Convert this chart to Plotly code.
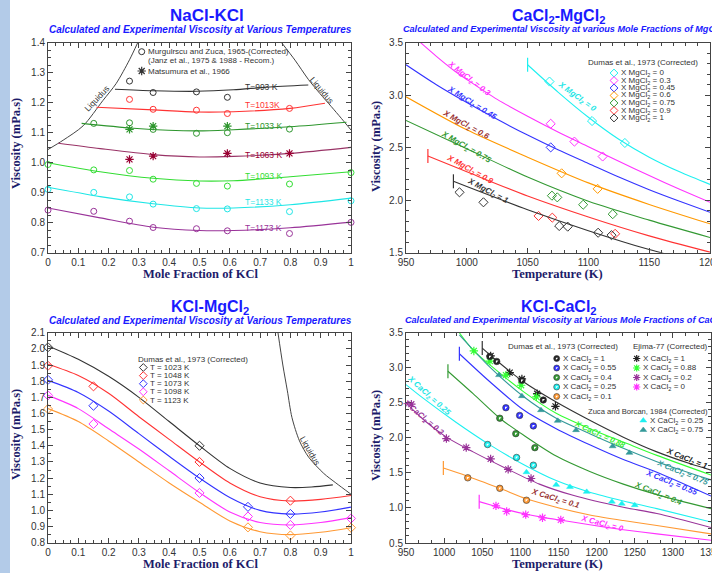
import plotly.graph_objects as go

W, H = 712, 573
SANS = "Liberation Sans, Arial, Helvetica, sans-serif"
SERIF = "Liberation Serif, Times New Roman, serif"

# ======================= DATA =======================
# ---- Panel 1 : NaCl-KCl (x = mole fraction KCl, y = viscosity, mPa.s)
P1_TEMPS = ["T=993 K", "T=1013K", "T=1033 K", "T=1063 K", "T=1093 K", "T=1133 K", "T=1173 K"]
P1_LINE_X = [
    [0.221, 0.347, 0.49, 0.612, 0.722, 0.859],
    [0.16, 0.347, 0.49, 0.612, 0.799, 0.914],
    [0.111, 0.282, 0.49, 0.612, 0.799, 0.985],
    [0.034, 0.172, 0.347, 0.5, 0.612, 0.799, 1.0],
    [0.0, 0.172, 0.347, 0.5, 0.612, 0.799, 1.0],
    [0.0, 0.172, 0.347, 0.5, 0.612, 0.799, 1.0],
    [0.0, 0.172, 0.347, 0.5, 0.612, 0.799, 1.0],
]
P1_LINE_Y = [
    [1.245, 1.240, 1.238, 1.243, 1.252, 1.259],
    [1.185, 1.176, 1.169, 1.170, 1.181, 1.198],
    [1.131, 1.115, 1.106, 1.110, 1.120, 1.135],
    [1.065, 1.047, 1.027, 1.019, 1.021, 1.031, 1.051],
    [1.000, 0.970, 0.948, 0.939, 0.940, 0.953, 0.970],
    [0.918, 0.887, 0.863, 0.849, 0.849, 0.860, 0.882],
    [0.849, 0.816, 0.785, 0.774, 0.774, 0.783, 0.802],
]
P1_MZ_X = [
    [0.269, 0.347, 0.49, 0.592],
    [0.269, 0.347, 0.49, 0.592, 0.797],
    [0.151, 0.269, 0.347, 0.49, 0.592, 0.797],
    [],
    [0.0, 0.151, 0.269, 0.347, 0.49, 0.592, 0.797, 1.0],
    [0.0, 0.151, 0.269, 0.347, 0.49, 0.592, 0.797, 1.0],
    [0.0, 0.151, 0.269, 0.347, 0.49, 0.592, 0.797, 1.0],
]
P1_MZ_Y = [
    [1.272, 1.234, 1.236, 1.218],
    [1.211, 1.178, 1.175, 1.164, 1.181],
    [1.131, 1.133, 1.111, 1.098, 1.100, 1.112],
    [],
    [0.994, 0.976, 0.974, 0.945, 0.931, 0.922, 0.929, 0.967],
    [0.911, 0.901, 0.886, 0.862, 0.847, 0.846, 0.837, 0.873],
    [0.842, 0.838, 0.805, 0.784, 0.780, 0.773, 0.764, 0.801],
]
P1_MAT_X = [[], [], [0.269, 0.347, 0.592], [0.269, 0.347, 0.592, 0.797], [], [], []]
P1_MAT_Y = [[], [], [1.111, 1.122, 1.122], [1.011, 1.022, 1.031, 1.031], [], [], []]
P1_LIQ_LEFT_X = [0.0, 0.05, 0.116, 0.181, 0.225, 0.269, 0.296]
P1_LIQ_LEFT_Y = [1.044, 1.075, 1.123, 1.207, 1.264, 1.343, 1.40]
P1_LIQ_RIGHT_X = [0.771, 0.815, 0.859, 0.897, 0.935, 0.968, 1.0]
P1_LIQ_RIGHT_Y = [1.40, 1.342, 1.278, 1.231, 1.187, 1.148, 1.109]

# ---- Panel 2 : CaCl2-MgCl2 (x = temperature K)
P2_FRAC = ["0", "0.3", "0.45", "0.6", "0.75", "0.9", "1"]
P2_LINE_T = [
    [1050, 1075, 1100, 1125, 1150, 1175, 1200],
    [962, 975, 990, 1000, 1025, 1050, 1075, 1100, 1125, 1150, 1175, 1200],
    [950, 975, 1000, 1025, 1050, 1075, 1100, 1125, 1150, 1175, 1200],
    [950, 1000, 1050, 1100, 1150, 1200],
    [950, 1000, 1050, 1100, 1150, 1200],
    [968, 1000, 1050, 1100, 1150, 1200],
    [989, 1000, 1050, 1100, 1150, 1200],
]
P2_LINE_V = [
    [3.29, 3.03, 2.79, 2.58, 2.41, 2.27, 2.15],
    [3.50, 3.37, 3.23, 3.15, 2.96, 2.80, 2.65, 2.51, 2.37, 2.235, 2.105, 1.98],
    [3.29, 3.10, 2.93, 2.77, 2.62, 2.48, 2.35, 2.22, 2.10, 1.99, 1.885],
    [2.985, 2.67, 2.41, 2.165, 1.96, 1.775],
    [2.76, 2.49, 2.22, 1.99, 1.81, 1.645],
    [2.42, 2.27, 2.04, 1.84, 1.66, 1.505],
    [2.18, 2.13, 1.91, 1.71, 1.53, 1.38],
]
P2_PTS_T = [
    [1068, 1103, 1130],
    [1069, 1088.5, 1111.7],
    [1069],
    [1078, 1107.6],
    [1070, 1074.4, 1095.7, 1120],
    [1059, 1070.3, 1122],
    [994, 1013.7, 1076, 1083, 1108, 1119],
]
P2_PTS_V = [
    [3.13, 2.754, 2.545],
    [2.728, 2.558, 2.416],
    [2.503],
    [2.256, 2.108],
    [2.043, 2.027, 1.957, 1.867],
    [1.85, 1.834, 1.68],
    [2.075, 1.98, 1.754, 1.748, 1.69, 1.667],
]

# ---- Panel 3 : KCl-MgCl2 (x = mole fraction KCl)
P3_TEMPS = ["T = 1023 K", "T = 1048 K", "T = 1073 K", "T = 1098 K", "T = 1123 K"]
P3_LINE_X = [
    [0.0, 0.1, 0.2, 0.3, 0.4, 0.5, 0.6, 0.7, 0.8, 0.87, 0.94],
    [0.0, 0.1, 0.2, 0.3, 0.4, 0.5, 0.6, 0.7, 0.8, 0.9, 1.0],
    [0.0, 0.1, 0.2, 0.3, 0.4, 0.5, 0.6, 0.7, 0.8, 0.9, 1.0],
    [0.0, 0.1, 0.2, 0.3, 0.4, 0.5, 0.6, 0.7, 0.8, 0.9, 1.0],
    [0.0, 0.1, 0.2, 0.3, 0.4, 0.5, 0.6, 0.7, 0.8, 0.9, 1.0],
]
P3_LINE_Y = [
    [2.018, 1.935, 1.83, 1.70, 1.55, 1.40, 1.26, 1.17, 1.142, 1.145, 1.158],
    [1.905, 1.835, 1.725, 1.58, 1.44, 1.30, 1.17, 1.085, 1.058, 1.068, 1.092],
    [1.805, 1.73, 1.615, 1.475, 1.335, 1.20, 1.08, 1.00, 0.977, 0.99, 1.02],
    [1.712, 1.63, 1.505, 1.38, 1.245, 1.11, 0.99, 0.925, 0.91, 0.925, 0.955],
    [1.63, 1.55, 1.43, 1.30, 1.17, 1.05, 0.935, 0.868, 0.85, 0.865, 0.893],
]
P3_PTS_X = [
    [0.0, 0.5],
    [0.0, 0.15, 0.5, 0.8],
    [0.0, 0.15, 0.5, 0.66, 0.8],
    [0.0, 0.15, 0.5, 0.66, 0.8, 1.0],
    [0.0, 0.66, 0.8, 1.0],
]
P3_PTS_Y = [
    [2.01, 1.40],
    [1.895, 1.768, 1.30, 1.06],
    [1.808, 1.648, 1.20, 1.022, 0.978],
    [1.712, 1.535, 1.108, 0.962, 0.91, 0.95],
    [1.628, 0.895, 0.845, 0.893],
]
P3_LIQ_X = [0.759, 0.775, 0.79, 0.805, 0.83, 0.86, 0.91, 0.95, 1.0]
P3_LIQ_Y = [2.10, 1.90, 1.74, 1.576, 1.43, 1.33, 1.229, 1.17, 1.10]

# ---- Panel 4 : KCl-CaCl2 (x = temperature K)
P4_FRAC = ["1", "0.88", "0.75", "0.55", "0.4", "0.25", "0.2", "0.1", "0"]
P4_LINE_T = [
    [1050, 1068, 1104, 1147, 1191, 1235, 1279, 1323, 1350],
    [1020, 1038, 1060, 1104, 1147, 1191, 1235, 1279, 1350],
    [1020, 1060, 1104, 1147, 1191, 1235, 1279, 1350],
    [1020, 1060, 1104, 1147, 1191, 1235, 1279, 1350],
    [1005, 1038, 1073, 1104, 1147, 1191, 1235, 1279, 1350],
    [950, 972, 1016, 1060, 1104, 1147, 1191, 1235, 1279, 1350],
    [950, 975, 1003, 1038, 1082, 1125, 1169, 1235, 1279, 1350],
    [999, 1029, 1073, 1108, 1147, 1191, 1235, 1279, 1350],
    [1046, 1068, 1086, 1108, 1130, 1156, 1191, 1235, 1279, 1350],
]
P4_LINE_V = [
    [3.28, 3.11, 2.80, 2.51, 2.25, 2.01, 1.80, 1.63, 1.54],
    [3.50, 3.25, 3.04, 2.66, 2.35, 2.13, 1.94, 1.75, 1.47],
    [3.47, 3.01, 2.59, 2.28, 2.06, 1.85, 1.66, 1.40],
    [3.20, 2.80, 2.40, 2.13, 1.90, 1.69, 1.51, 1.17],
    [2.95, 2.63, 2.28, 2.04, 1.74, 1.52, 1.34, 1.19, 0.99],
    [2.76, 2.57, 2.22, 1.90, 1.62, 1.39, 1.225, 1.10, 0.99, 0.80],
    [2.50, 2.24, 2.01, 1.80, 1.56, 1.34, 1.18, 1.01, 0.92, 0.72],
    [1.57, 1.46, 1.28, 1.13, 1.01, 0.90, 0.82, 0.75, 0.63],
    [1.09, 1.02, 0.965, 0.91, 0.865, 0.82, 0.76, 0.69, 0.63, 0.54],
]
P4_DUMAS_FRAC = ["1", "0.55", "0.4", "0.25", "0.1"]
P4_DUMAS_T = [[1060, 1069, 1102, 1130], [1081, 1099, 1117], [1073, 1094, 1119],
              [1057, 1095, 1117], [1031, 1073, 1108]]
P4_DUMAS_V = [[3.16, 3.09, 2.82, 2.54], [2.43, 2.32, 2.17], [2.28, 2.06, 1.86],
              [1.905, 1.72, 1.61], [1.43, 1.28, 1.11]]
P4_EJIMA_FRAC = ["1", "0.88", "0.2", "0"]
P4_EJIMA_T = [[1061, 1086, 1102, 1122, 1146], [1039, 1060, 1081, 1101, 1121],
              [957, 1003, 1029, 1061, 1084, 1114], [1068, 1082, 1107, 1129, 1153]]
P4_EJIMA_V = [[3.17, 2.93, 2.84, 2.63, 2.45], [3.24, 3.095, 2.895, 2.75, 2.585],
              [2.48, 1.99, 1.86, 1.70, 1.55, 1.42], [1.03, 0.95, 0.905, 0.86, 0.83]]
P4_ZUCA_FRAC = ["0.25", "0.75"]
P4_ZUCA_T = [[1108, 1147, 1165, 1187, 1220, 1233, 1250], [1072, 1102, 1127, 1149, 1173, 1221, 1243]]
P4_ZUCA_V = [[1.51, 1.33, 1.30, 1.23, 1.09, 1.06, 1.04], [2.895, 2.595, 2.395, 2.243, 2.11, 1.88, 1.786]]

# ======================= STYLE / LAYOUT =======================
P1_COL = ["#333333", "#ff3333", "#2e962e", "#993366", "#33dd33", "#1ee6e6", "#993399"]
P1_LBL_COL = ["#333333", "#ff3333", "#2e962e", "#990033", "#33dd33", "#1ee6e6", "#993399"]
P1_LBL_POS = [1.253, 1.192, 1.122, 1.027, 0.957, 0.868, 0.781]
P2_COL = ["#1ef0f0", "#ff33ff", "#3333ff", "#ff9900", "#339933", "#ff3333", "#333333"]
P2_LBL_COL = ["#1ee6e6", "#ff33ff", "#3333ff", "#993333", "#339933", "#ff3333", "#333333"]
P2_LBL_POS = [(1090.5, 2.98, 36), (1002, 3.156, 38), (1004, 2.93, 32), (999, 2.72, 29),
              (999, 2.51, 30), (1003, 2.29, 29), (1017, 2.085, 28)]
P2_TICK = [True, False, False, False, False, True, True]
P3_COL = ["#333333", "#ff3333", "#3333ff", "#ff33ff", "#ff9933"]
P4_COL = ["#333333", "#33ff33", "#339999", "#3333ff", "#339933", "#1ef0f0", "#993399", "#ff9933", "#ff33ff"]
P4_LBL_COL = ["#222222", "#33ee33", "#339999", "#3333ff", "#339933", "#1ee6e6", "#993399", "#993333", "#ff33ff"]
P4_LBL_POS = [(1318, 1.705, 22), (1204, 2.04, 25), (1312, 1.505, 22), (1298, 1.36, 22),
              (1281, 1.205, 22), (980, 2.595, 42), (973, 2.286, 40), (1146, 1.124, 17), (1207, 0.767, 15)]
P4_TICK = [True, False, False, True, True, False, False, True, True]
P4_DUMAS_COL = ["#222222", "#3333ff", "#339933", "#1ef0f0", "#ff9933"]
P4_EJIMA_COL = ["#222222", "#33ff33", "#993399", "#ff33ff"]
P4_ZUCA_COL = ["#1ef0f0", "#339999"]

PANELS = {1: (48, 351, 42.7, 252.7), 2: (406, 710, 42.7, 252.7),
          3: (48, 351, 332.7, 542.7), 4: (406, 711, 332.7, 543.0)}

fig = go.Figure()
ann = []


def ax(n):
    return ("x" if n == 1 else "x%d" % n), ("y" if n == 1 else "y%d" % n)


def lines(n, xs, ys, color, width=1.1):
    xa, ya = ax(n)
    fig.add_trace(go.Scatter(x=xs, y=ys, mode="lines", xaxis=xa, yaxis=ya, hoverinfo="skip",
                             line=dict(color=color, width=width, shape="spline", smoothing=0.8)))


def marks(n, xs, ys, symbol, color, size=6, lw=1.0, fill=None):
    xa, ya = ax(n)
    m = dict(symbol=symbol, size=size, color=(fill if fill is not None else color),
             line=dict(color=color, width=lw))
    fig.add_trace(go.Scatter(x=xs, y=ys, mode="markers", xaxis=xa, yaxis=ya, hoverinfo="skip",
                             marker=m, cliponaxis=False))


def asterisk(n, xs, ys, color, size=7):
    marks(n, xs, ys, "asterisk-open", color, size=size, lw=1.2)
    marks(n, xs, ys, "square", color, size=3, lw=0, fill=color)


def halfcircle(n, xs, ys, color, size=6.5):
    marks(n, xs, ys, "circle", "#333333", size=size, lw=0.6, fill=color)
    marks(n, xs, ys, "triangle-nw", "white", size=size * 0.45, lw=0, fill="white")


def ptext(px, py, text, size=8, color="#333333", xanchor="left", yanchor="middle",
          family=SANS, weight="normal", style="normal", angle=0):
    ann.append(dict(x=px / W, y=1 - py / H, xref="paper", yref="paper", text=text,
                    showarrow=False, xanchor=xanchor, yanchor=yanchor, textangle=angle,
                    font=dict(family=family, size=size, color=color, weight=weight, style=style)))


def dtext(n, x, y, text, size=8.5, color="#333", angle=0, xanchor="center",
          weight="normal", style="normal"):
    xa, ya = ax(n)
    ann.append(dict(x=x, y=y, xref=xa, yref=ya, text=text, showarrow=False,
                    xanchor=xanchor, yanchor="middle", textangle=angle,
                    font=dict(family=SANS, size=size, color=color, weight=weight, style=style)))


# ---------- Panel 1 ----------
lines(1, P1_LIQ_LEFT_X, P1_LIQ_LEFT_Y, "#444444", 1)
lines(1, P1_LIQ_RIGHT_X, P1_LIQ_RIGHT_Y, "#444444", 1)
for i in range(len(P1_TEMPS)):
    lines(1, P1_LINE_X[i], P1_LINE_Y[i], P1_COL[i])
for i in range(len(P1_TEMPS)):
    if P1_MZ_X[i]:
        marks(1, P1_MZ_X[i], P1_MZ_Y[i], "circle-open", P1_COL[i], size=6)
    if P1_MAT_X[i]:
        asterisk(1, P1_MAT_X[i], P1_MAT_Y[i], P1_LBL_COL[i])
    dtext(1, 0.645, P1_LBL_POS[i], P1_TEMPS[i], size=8.5, color=P1_LBL_COL[i], xanchor="left")
dtext(1, 0.163, 1.215, "Liquidus", size=8.5, color="#333", angle=-47)
dtext(1, 0.903, 1.242, "Liquidus", size=8.5, color="#333", angle=50)

# ---------- Panel 2 ----------
for i in range(len(P2_FRAC)):
    lines(2, P2_LINE_T[i], P2_LINE_V[i], P2_COL[i])
    if P2_TICK[i]:
        marks(2, P2_LINE_T[i][:1], P2_LINE_V[i][:1], "line-ns", P2_COL[i], size=10, lw=1.2)
    marks(2, P2_PTS_T[i], P2_PTS_V[i], "diamond-open", P2_COL[i], size=7)
    t, v, a = P2_LBL_POS[i]
    dtext(2, t, v, "X MgCl<sub>2</sub> = " + P2_FRAC[i], size=8, color=P2_LBL_COL[i],
          angle=a, weight="bold", style="italic")

# ---------- Panel 3 ----------
lines(3, P3_LIQ_X, P3_LIQ_Y, "#444444", 1)
for i in range(len(P3_TEMPS)):
    lines(3, P3_LINE_X[i], P3_LINE_Y[i], P3_COL[i])
    marks(3, P3_PTS_X[i], P3_PTS_Y[i], "diamond-open", P3_COL[i], size=7)
dtext(3, 0.865, 1.367, "Liquidus", size=8.5, color="#333", angle=60)

# ---------- Panel 4 ----------
for i in range(len(P4_FRAC)):
    lines(4, P4_LINE_T[i], P4_LINE_V[i], P4_COL[i])
    if P4_TICK[i]:
        marks(4, P4_LINE_T[i][:1], P4_LINE_V[i][:1], "line-ns", P4_COL[i], size=10, lw=1.2)
    t, v, a = P4_LBL_POS[i]
    dtext(4, t, v, "X CaCl<sub>2</sub> = " + P4_FRAC[i], size=8, color=P4_LBL_COL[i],
          angle=a, weight="bold", style="italic")
for i in range(len(P4_ZUCA_FRAC)):
    marks(4, P4_ZUCA_T[i], P4_ZUCA_V[i], "triangle-up", P4_ZUCA_COL[i], size=6, lw=0.5,
          fill=P4_ZUCA_COL[i])
for i in range(len(P4_EJIMA_FRAC)):
    asterisk(4, P4_EJIMA_T[i], P4_EJIMA_V[i], P4_EJIMA_COL[i])
for i in range(len(P4_DUMAS_FRAC)):
    halfcircle(4, P4_DUMAS_T[i], P4_DUMAS_V[i], P4_DUMAS_COL[i])

# ---------- Legends (overlay pixel axis x5/y5) ----------
marks(5, [141.7], [51.7], "circle-open", "#333333", size=6)
ptext(145.5, 51.7, "Murgulrscu and Zuca, 1965-(Corrected)")
ptext(146, 61, "(Janz et al., 1975 & 1988 - Recom.)")
asterisk(5, [141.7], [71], "#333333")
ptext(145.5, 71, "Matsumura et al., 1966")

ptext(643, 62.5, "Dumas et al., 1973 (Corrected)", xanchor="center")
P2_LEG_Y = [73, 80.5, 88, 95.5, 103, 110.5, 118]
for i in range(len(P2_FRAC)):
    marks(5, [614], [P2_LEG_Y[i]], "diamond-open", P2_COL[i], size=6)
    ptext(618.5, P2_LEG_Y[i], "X MgCl<sub>2</sub> = " + P2_FRAC[i])

ptext(192.5, 359, "Dumas et al., 1973 (Corrected)", xanchor="center")
P3_LEG_Y = [367.5, 375.6, 383.7, 391.8, 400]
for i in range(len(P3_TEMPS)):
    marks(5, [143.3], [P3_LEG_Y[i]], "diamond-open", P3_COL[i], size=6)
    ptext(147.8, P3_LEG_Y[i], P3_TEMPS[i])

ptext(563, 346.5, "Dumas et al., 1973 (Corrected)", xanchor="center")
P4_LEG_Y = [358.5, 368, 377.5, 387, 396.5]
for i in range(len(P4_DUMAS_FRAC)):
    halfcircle(5, [556.7], [P4_LEG_Y[i]], P4_DUMAS_COL[i], size=6)
    ptext(560.5, P4_LEG_Y[i], "X CaCl<sub>2</sub> = " + P4_DUMAS_FRAC[i])
ptext(709.5, 346.5, "Ejima-77 (Corrected)", xanchor="right")
for i in range(len(P4_EJIMA_FRAC)):
    asterisk(5, [636.7], [P4_LEG_Y[i]], P4_EJIMA_COL[i], size=6)
    ptext(640.5, P4_LEG_Y[i], "X CaCl<sub>2</sub> = " + P4_EJIMA_FRAC[i])
ptext(710, 411, "Zuca and Borcan, 1984 (Corrected)", size=7.6, xanchor="right")
P4_ZLEG_Y = [420.5, 430]
for i in range(len(P4_ZUCA_FRAC)):
    marks(5, [643.3], [P4_ZLEG_Y[i]], "triangle-up", P4_ZUCA_COL[i], size=6, lw=0.5,
          fill=P4_ZUCA_COL[i])
    ptext(647.5, P4_ZLEG_Y[i], "X CaCl<sub>2</sub> = " + P4_ZUCA_FRAC[i])

# ---------- Titles ----------
TCOL = "#1a1aff"
NAVY = "#1c1c6a"
ptext(207, 16, "NaCl-KCl", size=17, color=TCOL, xanchor="center", weight="bold")
ptext(200, 29.5, "Calculated and Experimental Viscosity at Various Temperatures", size=10,
      color=TCOL, xanchor="center", weight="bold", style="italic")
ptext(558.7, 16.5, "CaCl<sub>2</sub>-MgCl<sub>2</sub>", size=16, color=TCOL, xanchor="center", weight="bold")
ptext(401, 29.5, "Calculated and Experimental Viscosity at various Mole Fractions of MgCl<sub>2</sub>",
      size=9.1, color=TCOL, xanchor="left", weight="bold", style="italic")
ptext(210, 307.5, "KCl-MgCl<sub>2</sub>", size=16, color=TCOL, xanchor="center", weight="bold")
ptext(200, 320, "Calculated and Experimental Viscosity at Various Temperatures", size=10,
      color=TCOL, xanchor="center", weight="bold", style="italic")
ptext(559.3, 307.5, "KCl-CaCl<sub>2</sub>", size=16, color=TCOL, xanchor="center", weight="bold")
ptext(402.5, 320, "Calculated and Experimental Viscosity at Various Mole Fractions of CaCl<sub>2</sub>",
      size=9.1, color=TCOL, xanchor="left", weight="bold", style="italic")

ptext(200, 274, "Mole Fraction of KCl", size=12.5, color=NAVY, xanchor="center", family=SERIF, weight="bold")
ptext(557.7, 274, "Temperature (K)", size=12.5, color=NAVY, xanchor="center", family=SERIF, weight="bold")
ptext(200, 564, "Mole Fraction of KCl", size=12.5, color=NAVY, xanchor="center", family=SERIF, weight="bold")
ptext(557.7, 564, "Temperature (K)", size=12.5, color=NAVY, xanchor="center", family=SERIF, weight="bold")
for (xx, yy) in [(16, 144), (376, 146), (16, 435), (376, 435)]:
    ptext(xx, yy, "Viscosity (mPa.s)", size=12.5, color=NAVY, xanchor="center", family=SERIF,
          weight="bold", angle=-90)


# ---------- Axes ----------
def axis(n, is_x, rng, dtick, mdtick, fmt=None):
    x0, x1, y0, y1 = PANELS[n]
    dom = [x0 / W, x1 / W] if is_x else [1 - y1 / H, 1 - y0 / H]
    d = dict(domain=dom, range=rng, dtick=dtick, tick0=0, showline=True, linecolor="#444444",
             linewidth=1, mirror="ticks", ticks="inside", ticklen=5, tickwidth=1, tickcolor="#444444",
             showgrid=False, zeroline=False, fixedrange=True, automargin=False,
             ticklabeloverflow="allow",
             tickfont=dict(family=SANS, size=10, color="#333333"),
             minor=dict(ticks="inside", ticklen=3, dtick=mdtick, tick0=0, tickcolor="#444444", showgrid=False),
             anchor=("y" if n == 1 else "y%d" % n) if is_x else ("x" if n == 1 else "x%d" % n))
    if fmt:
        d["tickformat"] = fmt
    return d


layout = dict(
    width=W, height=H, margin=dict(l=0, r=0, t=0, b=0, pad=0, autoexpand=False), showlegend=False,
    paper_bgcolor="white", plot_bgcolor="rgba(0,0,0,0)",
    xaxis=axis(1, True, [0, 1], 0.1, 0.025),
    yaxis=axis(1, False, [0.7, 1.4], 0.1, 0.025, ".1f"),
    xaxis2=axis(2, True, [950, 1200], 50, 10),
    yaxis2=axis(2, False, [1.5, 3.5], 0.5, 0.1, ".1f"),
    xaxis3=axis(3, True, [0, 1], 0.1, 0.025),
    yaxis3=axis(3, False, [0.8, 2.1], 0.1, 0.05, ".1f"),
    xaxis4=axis(4, True, [950, 1350], 50, 50 / 3),
    yaxis4=axis(4, False, [0.5, 3.5], 0.5, 0.1, ".1f"),
    xaxis5=dict(domain=[0, 1], range=[0, W], visible=False, fixedrange=True, anchor="y5", automargin=False),
    yaxis5=dict(domain=[0, 1], range=[H, 0], visible=False, fixedrange=True, anchor="x5", automargin=False),
    annotations=ann,
    shapes=[dict(type="rect", xref="paper", yref="paper", x0=0, x1=10 / W, y0=0, y1=1,
                 fillcolor="#b3cbe8", line=dict(width=0), layer="below")],
)
fig.update_layout(**layout)
PAGE_FIX = ("document.documentElement.style.overflow='hidden';"
            "document.body.style.margin='0';document.body.style.overflow='hidden';"
            "var g=document.getElementById('{plot_id}');"
            "g.style.overflow='hidden';"
            "if(g.parentElement){g.parentElement.style.overflow='hidden';}")
fig.write_html("out.html", config={"displayModeBar": False}, post_script=PAGE_FIX)
